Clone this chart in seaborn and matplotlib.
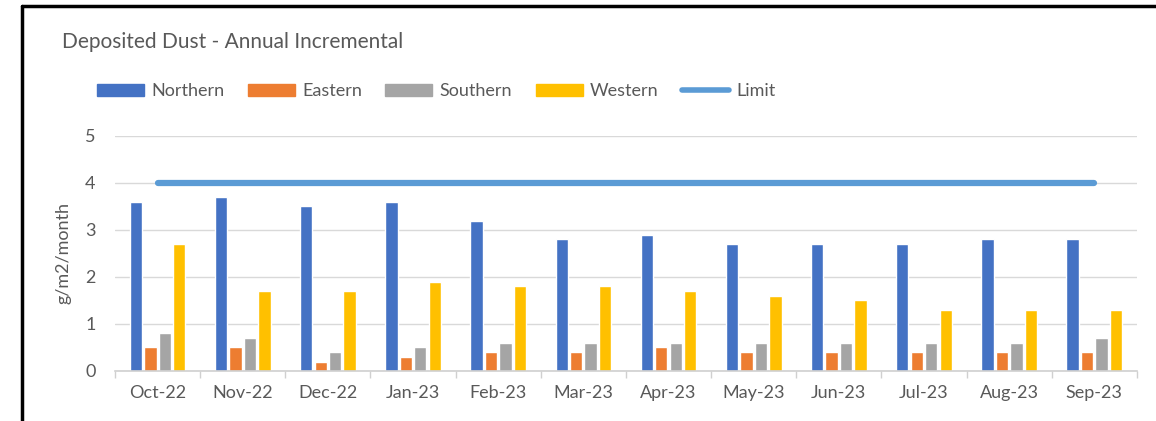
import matplotlib
matplotlib.use("Agg")
import matplotlib.pyplot as plt
import matplotlib.lines as mlines
import matplotlib.patches as mpatches
import seaborn as sns
import pandas as pd
import numpy as np

months = ["Oct-22", "Nov-22", "Dec-22", "Jan-23", "Feb-23", "Mar-23",
          "Apr-23", "May-23", "Jun-23", "Jul-23", "Aug-23", "Sep-23"]
northern = [3.6, 3.7, 3.5, 3.6, 3.2, 2.8, 2.9, 2.7, 2.7, 2.7, 2.8, 2.8]
eastern = [0.5, 0.5, 0.2, 0.3, 0.4, 0.4, 0.5, 0.4, 0.4, 0.4, 0.4, 0.4]
southern = [0.8, 0.7, 0.4, 0.5, 0.6, 0.6, 0.6, 0.6, 0.6, 0.6, 0.6, 0.7]
western = [2.7, 1.7, 1.7, 1.9, 1.8, 1.8, 1.7, 1.6, 1.5, 1.3, 1.3, 1.3]
limit = [4, 4, 4, 4, 4, 4, 4, 4, 4, 4, 4, 4]
series_names = ["Northern", "Eastern", "Southern", "Western"]
colors = ["#4472C4", "#ED7D31", "#A5A5A5", "#FFC000"]
limit_color = "#5B9BD5"

rows = []
for name, vals in zip(series_names, [northern, eastern, southern, western]):
    for m, v in zip(months, vals):
        rows.append({"Month": m, "Series": name, "Value": v})
df = pd.DataFrame(rows)

sns.set_theme(style="white")
plt.rcParams["font.family"] = ["Lato", "DejaVu Sans"]

fig = plt.figure(figsize=(11.56, 4.21), dpi=100)
ax = fig.add_axes([0.0995, 0.119, 0.884, 0.558])

sns.barplot(data=df, x="Month", y="Value", hue="Series", order=months,
            hue_order=series_names, palette=colors, width=0.68, gap=0.15,
            saturation=1, ax=ax, legend=False)
ax.plot(range(len(months)), limit, color=limit_color, lw=4.5,
        solid_capstyle="round", zorder=3)

ax.set_xlim(-0.5, len(months) - 0.5)
ax.set_ylim(0, 5)
ax.set_yticks([0, 1, 2, 3, 4, 5])
ax.yaxis.grid(True, color="#D9D9D9", lw=1)
ax.set_axisbelow(True)
for s in ["top", "right", "left"]:
    ax.spines[s].set_visible(False)
ax.spines["bottom"].set_color("#D0D0D0")
ax.spines["bottom"].set_linewidth(1.2)
ax.set_xticks(np.arange(-0.5, len(months), 1.0), minor=True)
ax.tick_params(axis="x", which="minor", length=5, color="#D0D0D0", width=1, bottom=True)
ax.tick_params(axis="x", which="major", length=0, labelsize=13, labelcolor="#595959", pad=10)
ax.tick_params(axis="y", length=0, labelsize=13, labelcolor="#595959", pad=14)
ax.set_xlabel("")
ax.set_ylabel("g/m2/month", fontsize=13, color="#595959", labelpad=10)

fig.text(0.054, 0.9, "Deposited Dust - Annual Incremental", fontsize=15,
         color="#595959", va="center", ha="left")

handles = [mpatches.Patch(color=c, label=n) for n, c in zip(series_names, colors)]
handles.append(mlines.Line2D([], [], color=limit_color, lw=4, label="Limit"))
fig.legend(handles=handles, loc="center left", bbox_to_anchor=(0.070, 0.783),
           ncol=5, frameon=False, fontsize=13, labelcolor="#595959",
           handlelength=2.6, handleheight=0.6, columnspacing=1.3, handletextpad=0.4)

# outer frame (left & top)
fig.add_artist(mlines.Line2D([0.019, 0.019], [0, 0.986], color="black", lw=2.5,
                             transform=fig.transFigure))
fig.add_artist(mlines.Line2D([0.019, 1.0], [0.986, 0.986], color="black", lw=2.5,
                             transform=fig.transFigure))

fig.savefig("out.png", dpi=100)
